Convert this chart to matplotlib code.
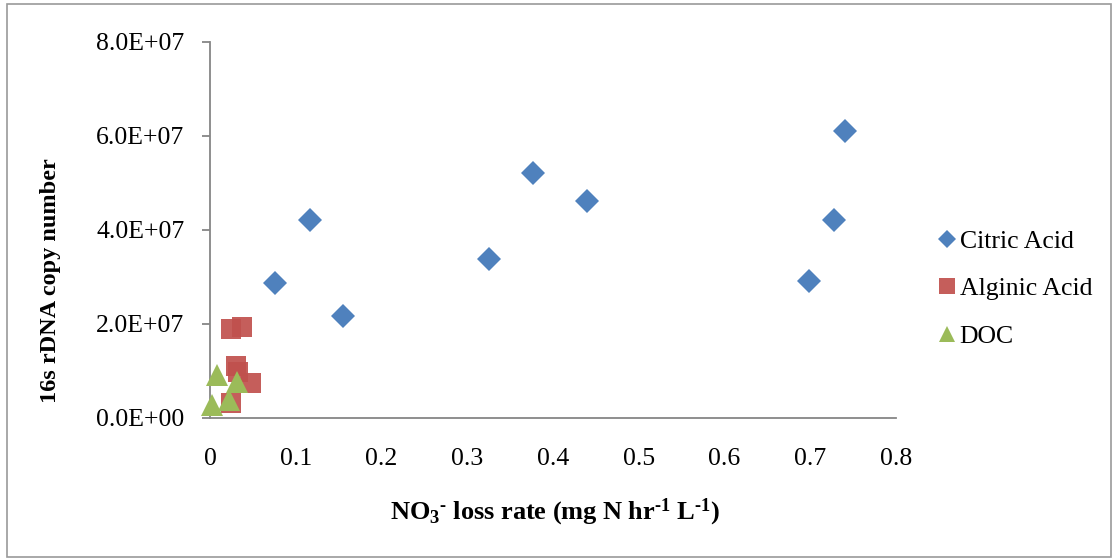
import matplotlib
matplotlib.use("Agg")
import matplotlib.pyplot as plt
from matplotlib.patches import Rectangle
from matplotlib.ticker import FuncFormatter

plt.rcParams["font.family"] = ["Liberation Serif", "DejaVu Serif"]
plt.rcParams["mathtext.fontset"] = "custom"
plt.rcParams["mathtext.rm"] = "Liberation Serif"
plt.rcParams["mathtext.bf"] = "Liberation Serif:bold"
plt.rcParams["mathtext.it"] = "Liberation Serif:italic"

# NO3- loss rate (mg N / hr / L) vs 16s rDNA copy number
citric_x = [0.076, 0.117, 0.155, 0.325, 0.377, 0.440, 0.698, 0.728, 0.740]
citric_y = [2.87e7, 4.22e7, 2.17e7, 3.38e7, 5.22e7, 4.62e7, 2.91e7, 4.21e7, 6.10e7]

alginic_x = [0.025, 0.037, 0.030, 0.033, 0.048, 0.025]
alginic_y = [1.90e7, 1.93e7, 1.10e7, 0.98e7, 0.74e7, 0.32e7]

doc_x = [0.008, 0.031, 0.002, 0.022]
doc_y = [0.91e7, 0.76e7, 0.28e7, 0.38e7]

x_ticks = [0, 0.1, 0.2, 0.3, 0.4, 0.5, 0.6, 0.7, 0.8]
x_tick_labels = ["0", "0.1", "0.2", "0.3", "0.4", "0.5", "0.6", "0.7", "0.8"]
y_ticks = [0, 2e7, 4e7, 6e7, 8e7]

BLUE = "#4F81BD"
RED = "#C0504D"
GREEN = "#9BBB59"
AXIS_GREY = "#868686"

fig = plt.figure(figsize=(11.16, 5.6), dpi=100)
ax = fig.add_axes([210 / 1116, 1 - 418 / 560, (896 - 210) / 1116, (418 - 42) / 560])

ax.plot(citric_x, citric_y, linestyle="none", marker="D", markersize=12,
        color=BLUE, markeredgewidth=0, label="Citric Acid", clip_on=False, zorder=3)
ax.plot(alginic_x, alginic_y, linestyle="none", marker="s", markersize=14.5,
        color=RED, markeredgewidth=0, alpha=0.92, label="Alginic Acid", clip_on=False, zorder=3)
ax.plot(doc_x, doc_y, linestyle="none", marker="^", markersize=15.5,
        color=GREEN, markeredgewidth=0, label="DOC", clip_on=False, zorder=4)

ax.set_xlim(0, 0.8)
ax.set_ylim(0, 8e7)
ax.set_xticks(x_ticks)
ax.set_xticklabels(x_tick_labels)
ax.set_yticks(y_ticks)
ax.yaxis.set_major_formatter(FuncFormatter(
    lambda v, p: "{:.1E}".format(v) if v else "0.0E+00"))

for side in ("top", "right"):
    ax.spines[side].set_visible(False)
for side in ("left", "bottom"):
    ax.spines[side].set_color(AXIS_GREY)
    ax.spines[side].set_linewidth(1.3)

ax.tick_params(axis="y", direction="out", length=6, width=1.3, color=AXIS_GREY,
               labelsize=18.5, pad=12.5)
ax.tick_params(axis="x", length=0, labelsize=18.5, pad=21.5)

fig.text(51 / 1116, 1 - 281 / 560, "16s rDNA copy number", rotation=90,
         ha="center", va="center", fontsize=17.5, fontweight="bold")
fig.text(555 / 1116, 1 - 512 / 560,
         "$\\mathbf{NO_3{}^{\u2010}\\ loss\\ rate\\ (mg\\ N\\ hr^{\u20101}\\ L^{\u20101})}$",
         ha="center", va="center", fontsize=19)

fig.legend(loc="upper left", bbox_to_anchor=(934 / 1116, 1 - 230 / 560),
           frameon=False, fontsize=18.5, handletextpad=0.0, handlelength=1.0,
           labelspacing=0.95, borderaxespad=0, borderpad=0, markerscale=0.75)

fig.patches.append(Rectangle((7 / 1116, 3 / 560), 1104 / 1116, 553 / 560,
                             transform=fig.transFigure, fill=False,
                             edgecolor="#9a9a9a", linewidth=1.2))

fig.savefig("out.png", dpi=100)
